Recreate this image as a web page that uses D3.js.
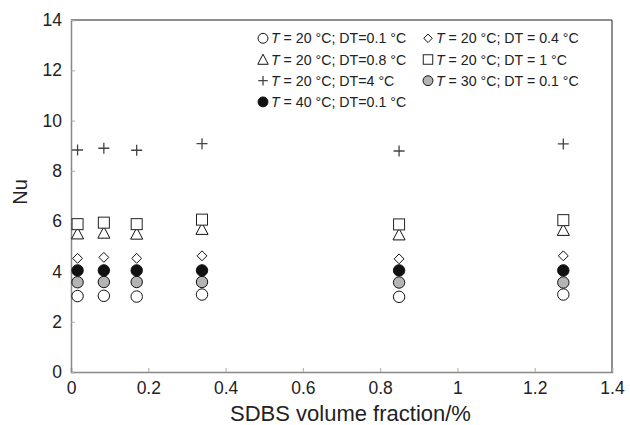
<!DOCTYPE html>
<html>
<head>
<meta charset="utf-8">
<script src="https://cdn.jsdelivr.net/npm/d3@7"></script>
<style>
  body { margin: 0; background: #fff; }
  text { font-family: "Liberation Sans", Arial, sans-serif; fill: #222; }
</style>
</head>
<body>
<script>
// SDBS volume fraction (%)
var fractions = [0.017, 0.085, 0.17, 0.339, 0.849, 1.274];

// Nu for each test condition
var nuT20DT01 = [3.02, 3.03, 3.0, 3.08, 2.99, 3.08];
var nuT20DT04 = [4.52, 4.56, 4.52, 4.62, 4.5, 4.62];
var nuT20DT08 = [5.51, 5.54, 5.5, 5.69, 5.47, 5.65];
var nuT20DT1  = [5.88, 5.94, 5.88, 6.06, 5.87, 6.04];
var nuT20DT4  = [8.83, 8.9, 8.82, 9.08, 8.79, 9.07];
var nuT30DT01 = [3.57, 3.58, 3.58, 3.58, 3.56, 3.56];
var nuT40DT01 = [4.04, 4.04, 4.04, 4.04, 4.04, 4.04];

var xTicks = [0, 0.2, 0.4, 0.6, 0.8, 1, 1.2, 1.4];
var yTicks = [0, 2, 4, 6, 8, 10, 12, 14];

var series = [
  {t: "20", dt: "DT=0.1 °C",   shape: "circle",   fill: "#fff",    values: nuT20DT01},
  {t: "20", dt: "DT = 0.4 °C", shape: "diamond",  fill: "#fff",    values: nuT20DT04},
  {t: "20", dt: "DT=0.8 °C",   shape: "triangle", fill: "#fff",    values: nuT20DT08},
  {t: "20", dt: "DT = 1 °C",   shape: "square",   fill: "#fff",    values: nuT20DT1},
  {t: "20", dt: "DT=4 °C",     shape: "plus",     fill: "none",    values: nuT20DT4},
  {t: "30", dt: "DT = 0.1 °C", shape: "circle",   fill: "#b4b4b4", values: nuT30DT01},
  {t: "40", dt: "DT=0.1 °C",   shape: "circle",   fill: "#111",    values: nuT40DT01}
];

var margin = {top: 20, right: 18, bottom: 53, left: 71},
    width = 630 - margin.left - margin.right,
    height = 425 - margin.top - margin.bottom;

var svg = d3.select("body").append("svg")
    .attr("width", 630)
    .attr("height", 425)
    .append("g")
    .attr("transform", "translate(" + margin.left + "," + margin.top + ")");

var xScale = d3.scaleLinear().domain([0, 1.4]).range([0, width]);
var yScale = d3.scaleLinear().domain([0, 14]).range([height, 0]);

// frame: top and right dark, axes grey
svg.append("line").attr("x1", 0).attr("x2", width).attr("y1", 0).attr("y2", 0)
    .attr("stroke", "#222").attr("stroke-width", 1.2);
svg.append("line").attr("x1", width).attr("x2", width).attr("y1", 0).attr("y2", height)
    .attr("stroke", "#444").attr("stroke-width", 1.2);

var xAxis = d3.axisBottom(xScale).tickValues(xTicks).tickSize(-4).tickPadding(7)
    .tickFormat(d3.format("~g"));
var yAxis = d3.axisLeft(yScale).tickValues(yTicks).tickSize(-4).tickPadding(8);

var gx = svg.append("g")
    .attr("transform", "translate(0," + height + ")")
    .call(xAxis);
var gy = svg.append("g").call(yAxis);

[gx, gy].forEach(function(g) {
  g.select(".domain").attr("stroke", "#888").attr("stroke-width", 1.5);
  g.selectAll(".tick line").attr("stroke", "#aaa");
  g.selectAll(".tick text").attr("font-size", "17.5px").attr("fill", "#222")
      .attr("font-family", "Liberation Sans, Arial, sans-serif");
});
gx.selectAll(".tick text").attr("dy", "0.85em");
gy.selectAll(".tick text").attr("dx", "-1px");

svg.append("text")
    .attr("x", (232 + 469) / 2 - margin.left)
    .attr("y", 421 - margin.top)
    .attr("text-anchor", "middle")
    .attr("font-size", "22px")
    .text("SDBS volume fraction/%");

svg.append("text")
    .attr("transform", "rotate(-90)")
    .attr("x", -(192 - margin.top))
    .attr("y", 27 - margin.left)
    .attr("text-anchor", "middle")
    .attr("font-size", "20px")
    .text("Nu");

function drawMarker(g, shape, fill, s) {
  if (shape === "circle") {
    g.append("circle").attr("r", s * 0.52)
      .attr("fill", fill).attr("stroke", "#111").attr("stroke-width", 1);
  } else if (shape === "square") {
    g.append("rect").attr("x", -s / 2).attr("y", -s / 2).attr("width", s).attr("height", s)
      .attr("fill", fill).attr("stroke", "#222").attr("stroke-width", 1);
  } else if (shape === "triangle") {
    var h = s * 0.9;
    g.append("path")
      .attr("d", "M0," + (-h / 2 - 1) + "L" + (s * 0.55) + "," + (h / 2 + 0.5) + "L" + (-s * 0.55) + "," + (h / 2 + 0.5) + "Z")
      .attr("fill", fill).attr("stroke", "#111").attr("stroke-width", 1);
  } else if (shape === "diamond") {
    var d = s * 0.45;
    g.append("path")
      .attr("d", "M0," + (-d) + "L" + d + ",0L0," + d + "L" + (-d) + ",0Z")
      .attr("fill", fill).attr("stroke", "#111").attr("stroke-width", 1);
  } else if (shape === "plus") {
    var p = s * 0.5;
    g.append("path")
      .attr("d", "M" + (-p) + ",0H" + p + "M0," + (-p) + "V" + p)
      .attr("fill", "none").attr("stroke", "#444").attr("stroke-width", 1.3);
  }
}

// data points
series.forEach(function(ser) {
  ser.values.forEach(function(v, i) {
    var g = svg.append("g")
      .attr("transform", "translate(" + xScale(fractions[i]) + "," + yScale(v) + ")");
    drawMarker(g, ser.shape, ser.fill, 11);
  });
});

// legend, two columns
var legend = svg.append("g").attr("transform", "translate(192,18.3)");
series.forEach(function(ser, i) {
  var col = i % 2, row = Math.floor(i / 2);
  var item = legend.append("g")
    .attr("transform", "translate(" + (col * 165) + "," + (row * 21.2) + ")");
  drawMarker(item.append("g"), ser.shape, ser.fill, 9.5);
  var txt = item.append("text")
    .attr("x", 8)
    .attr("y", 5)
    .attr("font-size", "14.2px");
  txt.append("tspan").attr("font-style", "italic").text("T");
  txt.append("tspan").text(" = " + ser.t + " °C; " + ser.dt);
});
</script>
</body>
</html>
